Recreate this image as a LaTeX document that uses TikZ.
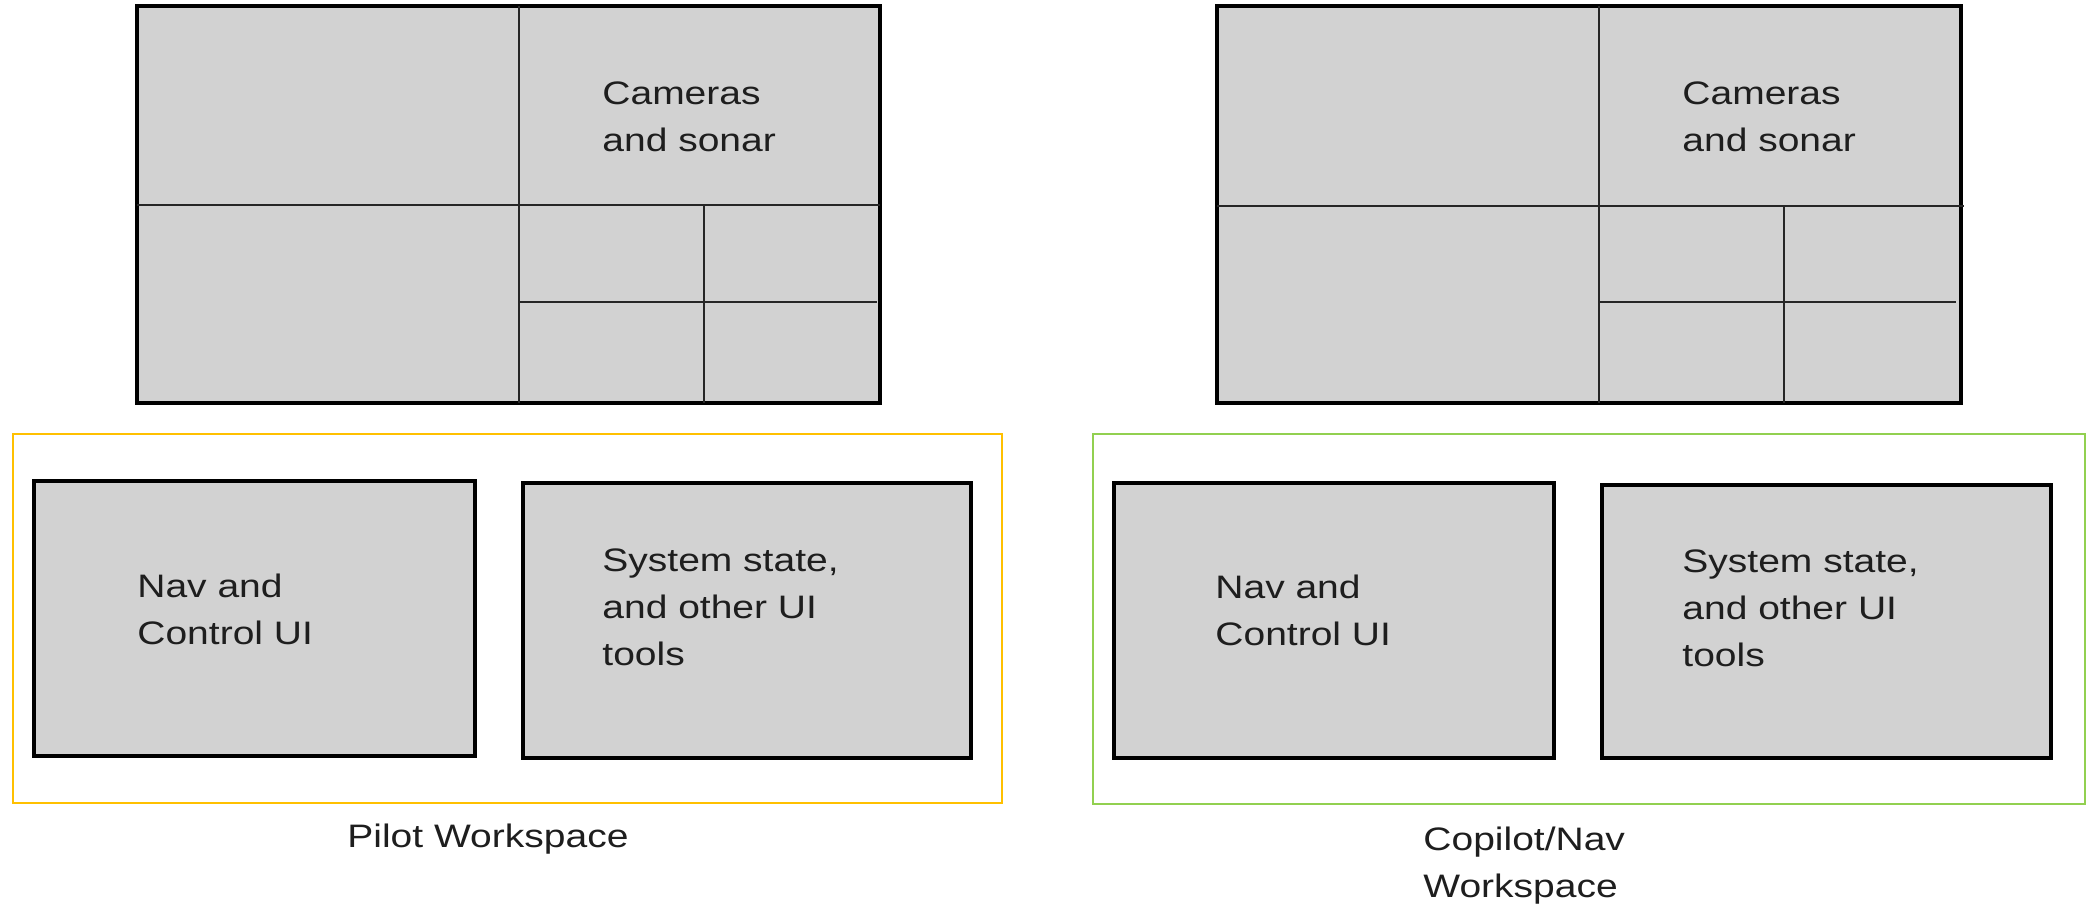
\documentclass[tikz,border=0pt]{standalone}
\usepackage{fontspec}
\setmainfont[FakeStretch=1.2]{Liberation Sans}
\usetikzlibrary{fit}
\definecolor{panelfill}{RGB}{210,210,210}
\definecolor{pilotyellow}{RGB}{255,192,0}
\definecolor{navgreen}{RGB}{146,208,80}
\definecolor{txt}{RGB}{30,30,30}
\begin{document}
\begin{tikzpicture}[x=0.5pt,y=-0.5pt,
  monitor/.style={draw=black,line width=1.8pt,fill=panelfill,inner sep=0pt},
  panel/.style={draw=black,line width=1.7pt,fill=panelfill,inner sep=0pt},
  divline/.style={draw=black!85,line width=1pt},
  hdivline/.style={draw=black!85,line width=1.3pt},
  pilotframe/.style={draw=pilotyellow,line width=1.3pt,inner sep=0pt},
  navframe/.style={draw=navgreen,line width=1.3pt,inner sep=0pt},
  lbl/.style={text=txt,inner sep=0pt,align=left,font=\fontsize{16.25}{23.5}\selectfont}
]
\useasboundingbox (0,0) rectangle (2087,907);

% ---- left monitor ----
\node[monitor,fit={(137,6) (880,403)}] (monL) {};
\draw[divline] (519,6) -- (519,403);
\draw[hdivline] (137,205) -- (880,205);
\draw[divline] (704,205) -- (704,403);
\draw[hdivline] (519,302) -- (877,302);
\node[lbl,anchor=north west] (camL) at (602,81.5) {Cameras\\and sonar};

% ---- right monitor ----
\node[monitor,fit={(1217,6) (1961,403)}] (monR) {};
\draw[divline] (1599,6) -- (1599,403);
\draw[hdivline] (1217,206) -- (1964,206);
\draw[divline] (1784,206) -- (1784,403);
\draw[hdivline] (1599,302) -- (1956,302);
\node[lbl,anchor=north west] (camR) at (1682,81.5) {Cameras\\and sonar};

% ---- pilot workspace ----
\node[pilotframe,fit={(13,434) (1002,803)}] (pilot) {};
\node[panel,fit={(34,481) (475,756)}] (navL) {};
\node[panel,fit={(523,483) (971,758)}] (sysL) {};
\node[lbl,anchor=north west] (navLt) at (137,573.5) {Nav and\\Control UI};
\node[lbl,anchor=north west] (sysLt) at (602,548.5) {System state,\\and other UI\\tools};
\node[lbl,anchor=base west] (pilotlbl) at (347,847) {Pilot Workspace};

% ---- copilot workspace ----
\node[navframe,fit={(1093,434) (2085,804)}] (copilot) {};
\node[panel,fit={(1114,483) (1554,758)}] (navR) {};
\node[panel,fit={(1602,485) (2051,758)}] (sysR) {};
\node[lbl,anchor=north west] (navRt) at (1215,574.5) {Nav and\\Control UI};
\node[lbl,anchor=north west] (sysRt) at (1682,549.5) {System state,\\and other UI\\tools};
\node[lbl,anchor=north west] (copilotlbl) at (1423,826.5) {Copilot/Nav\\Workspace};
\end{tikzpicture}
\end{document}
